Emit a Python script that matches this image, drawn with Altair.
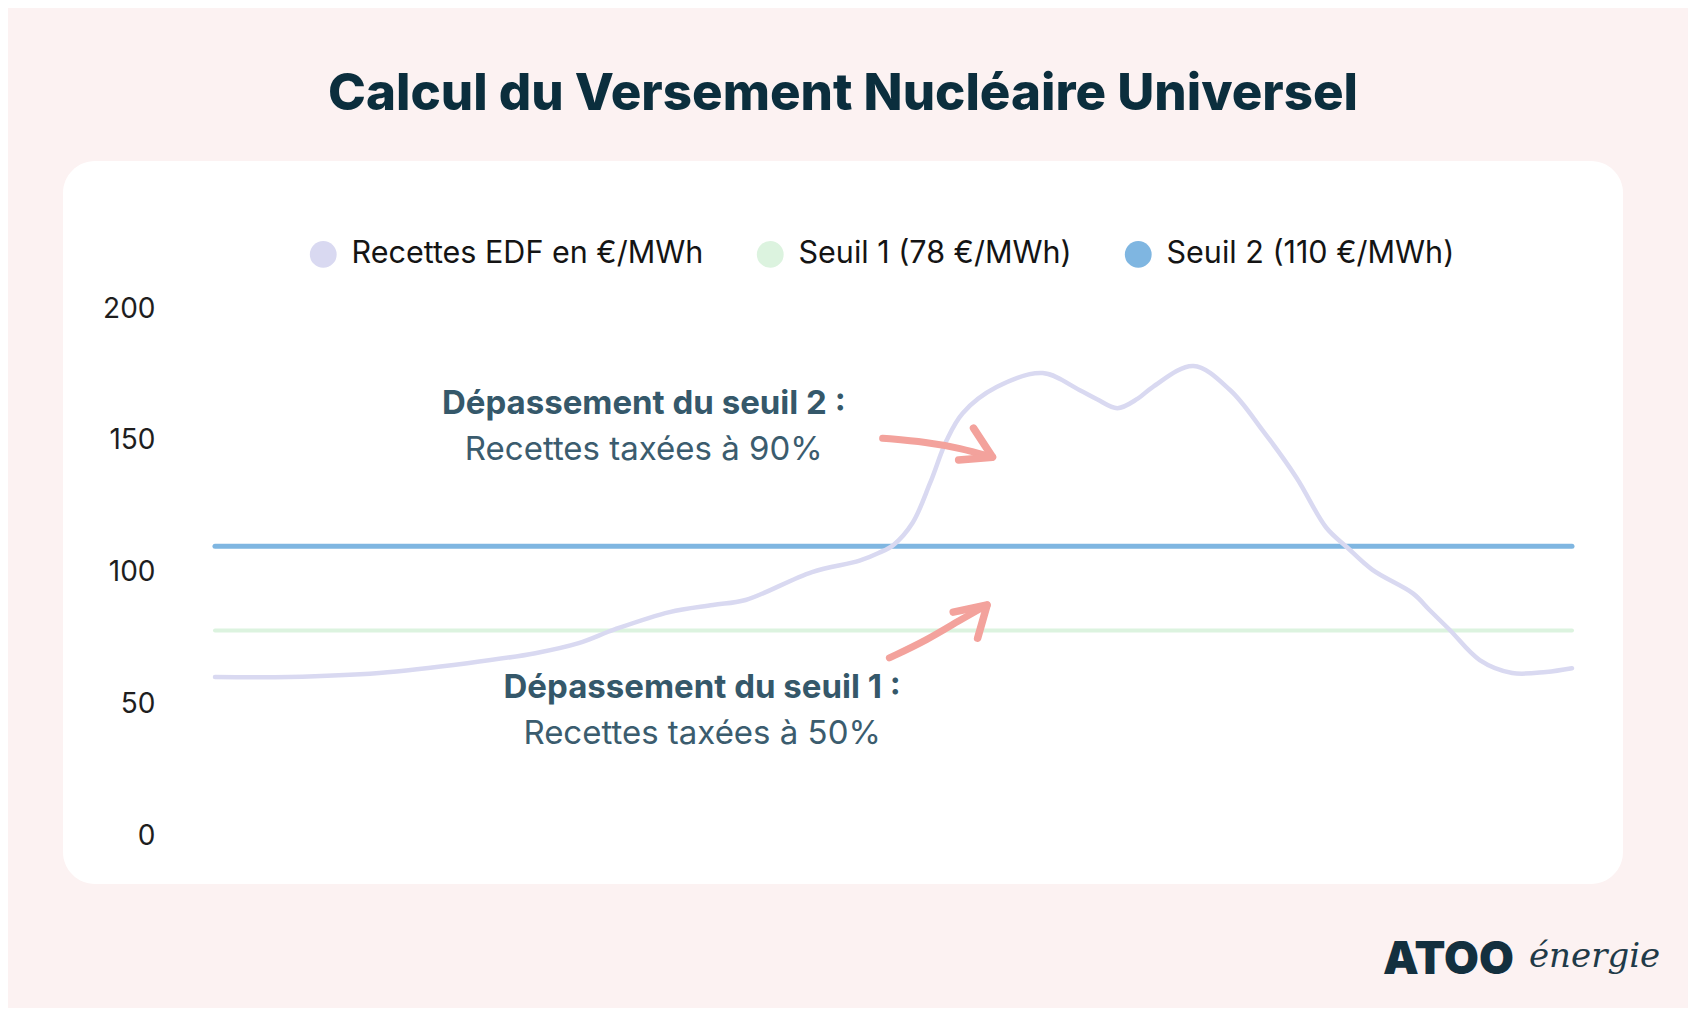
import altair as alt
import pandas as pd

# ---------------- data ----------------
serie_recettes = "Recettes EDF en €/MWh"
serie_seuil1 = "Seuil 1 (78 €/MWh)"
serie_seuil2 = "Seuil 2 (110 €/MWh)"
series = [serie_recettes, serie_seuil1, serie_seuil2]
series_colors = ["#D9D9F1", "#DCF3DF", "#7FB6E1"]

periode = [0, 5.45, 12.1, 18.6, 23.6, 26.8, 29.5, 33.5, 36.7, 39.1, 44.0, 47.5,
           48.9, 50.0, 51.4, 52.7, 53.9, 55.1, 57.6, 61.0, 63.7, 65.0, 66.5, 68.0,
           69.1, 72.1, 74.8, 77.2, 79.7, 81.9, 83.4, 85.3, 88.3, 89.5, 91.0,
           93.2, 95.6, 98.1, 100]
recettes = [60.4, 60.4, 61.9, 65.6, 69.4, 73.2, 78.5, 85.0, 87.7, 89.6, 100.2,
            104.5, 107.4, 110.5, 118.8, 134.0, 150.0, 160.5, 170.4, 175.7,
            169.3, 165.8, 162.4, 166.0, 170.4, 178.4, 169.3, 154.0, 136.0, 117.0,
            109.7, 101.0, 92.0, 85.8, 78.2, 66.8, 61.9, 62.3, 63.7]

seuil_series = [serie_seuil1, serie_seuil2]
seuil_valeurs = [78, 110]
seuil_debut = [0, 0]
seuil_fin = [100, 100]
seuil_epaisseur = [4, 5]

y_ticks = [0, 50, 100, 150, 200]

annot_bold_texte = ["Dépassement du seuil 2 :", "Dépassement du seuil 1 :"]
annot_bold_t = [31.6, 35.9]
annot_bold_v = [164.0, 56.0]
annot_texte = ["Recettes taxées à 90%", "Recettes taxées à 50%"]
annot_t = [31.6, 35.9]
annot_v = [146.5, 38.7]

# arrows (in chart units)
fleche_corps_id = ["a1", "a1", "a1", "a1", "a2", "a2", "a2", "a2"]
fleche_corps_t = [49.2, 52.5, 54.9, 57.3, 49.7, 52.5, 54.9, 56.9]
fleche_corps_v = [151.0, 149.5, 147.2, 143.8, 67.6, 74.4, 82.0, 87.7]
fleche_tete_id = ["a1", "a1", "a1", "a2", "a2", "a2"]
fleche_tete_t = [55.9, 57.3, 54.8, 54.4, 56.9, 56.2]
fleche_tete_v = [154.8, 143.8, 142.7, 85.0, 87.7, 75.1]

# ---------------- tables ----------------
df_curve = pd.DataFrame({"t": periode, "v": recettes, "serie": serie_recettes})
df_seuils = pd.DataFrame({"serie": seuil_series, "v": seuil_valeurs,
                          "t": seuil_debut, "t2": seuil_fin, "w": seuil_epaisseur})
df_legend = pd.DataFrame({"serie": series, "t": [0, 0, 0],
                          "v": [recettes[0], seuil_valeurs[0], seuil_valeurs[1]]})
df_bold = pd.DataFrame({"t": annot_bold_t, "v": annot_bold_v, "txt": annot_bold_texte})
df_reg = pd.DataFrame({"t": annot_t, "v": annot_v, "txt": annot_texte})
df_corps = pd.DataFrame({"id": fleche_corps_id, "t": fleche_corps_t, "v": fleche_corps_v,
                         "o": list(range(len(fleche_corps_t)))})
df_tete = pd.DataFrame({"id": fleche_tete_id, "t": fleche_tete_t, "v": fleche_tete_v,
                        "o": list(range(len(fleche_tete_t)))})
df_logo = pd.DataFrame({"a": ["ATOO"], "b": ["énergie"]})

FONT = "Inter"
TXT_COL = "#3B5C6E"

xs = alt.Scale(domain=[-11.2, 103.76], nice=False, zero=False)
ys = alt.Scale(domain=[-18.2, 256.2], nice=False, zero=False)
X = alt.X("t:Q", scale=xs, axis=None)
Y = alt.Y("v:Q", scale=ys,
          axis=alt.Axis(values=y_ticks, offset=-92, labelPadding=0, ticks=False,
                        domain=False, grid=False, title=None, labelFont=FONT,
                        labelFontSize=28, labelColor="#1E1E1E"))
# stroke scale uses the reversed order so that its (hidden) legend is not merged
stroke_scale = alt.Scale(domain=series[::-1], range=series_colors[::-1])

seuils = alt.Chart(df_seuils).mark_rule(strokeCap="round").encode(
    x=X, x2="t2:Q", y=Y,
    stroke=alt.Stroke("serie:N", scale=stroke_scale, legend=None),
    strokeWidth=alt.StrokeWidth("w:Q", scale=None, legend=None),
)

courbe = alt.Chart(df_curve).mark_line(strokeWidth=4.5, interpolate="catmull-rom",
                                        strokeCap="round").encode(
    x=X, y=Y,
    stroke=alt.Stroke("serie:N", scale=stroke_scale, legend=None),
)

legende = alt.Chart(df_legend).mark_circle(size=0, opacity=0).encode(
    x=X, y=Y,
    fill=alt.Fill("serie:N", scale=alt.Scale(domain=series, range=series_colors),
                  legend=alt.Legend(title=None, orient="none", legendX=245, legendY=78,
                                    direction="horizontal", symbolType="circle",
                                    symbolSize=720, symbolOpacity=1, symbolStrokeWidth=0,
                                    labelFont=FONT, labelFontSize=30.5, labelColor="#141414",
                                    labelOffset=13, columnPadding=51, labelLimit=600,
                                    padding=0)),
)

corps = alt.Chart(df_corps).mark_line(strokeWidth=7, color="#F3A29C", interpolate="basis",
                                       strokeCap="round").encode(
    x=X, y=Y, detail="id:N", order="o:Q")
tetes = alt.Chart(df_tete).mark_line(strokeWidth=7.5, color="#F3A29C", strokeCap="round",
                                      strokeJoin="round").encode(
    x=X, y=Y, detail="id:N", order="o:Q")

bold = alt.Chart(df_bold).mark_text(font=FONT, fontSize=33, fontWeight="bold",
                                     color="#35586A", align="center", baseline="middle").encode(
    x=X, y=Y, text="txt:N")
reg = alt.Chart(df_reg).mark_text(font=FONT, fontSize=33, color=TXT_COL,
                                   align="center", baseline="middle").encode(
    x=X, y=Y, text="txt:N")

logo_a = alt.Chart(df_logo).mark_text(font=FONT, fontSize=45, fontWeight=900,
                                       color="#13303F", align="left",
                                       baseline="alphabetic").encode(
    x=alt.value(1320), y=alt.value(813), text="a:N")
logo_b = alt.Chart(df_logo).mark_text(font="DejaVu Serif", fontSize=34, fontStyle="italic",
                                       color="#1F3A48", align="left",
                                       baseline="alphabetic").encode(
    x=alt.value(1466), y=alt.value(806), text="b:N")

chart = alt.layer(seuils, courbe, legende, corps, tetes, bold, reg, logo_a, logo_b).properties(
    width=1560, height=723,
    title=alt.TitleParams("Calcul du Versement Nucléaire Universel", font=FONT,
                          fontSize=51, fontWeight=800, color="#0B2E3D",
                          anchor="middle", offset=40),
    autosize=alt.AutoSizeParams(type="none"),
    padding={"left": 55, "top": 153, "right": 65, "bottom": 124},
).configure(background="#FCF2F2").configure_view(
    fill="white", stroke=None, cornerRadius=32
)

chart.save("out.html", embed_options={"renderer": "svg", "actions": False})
